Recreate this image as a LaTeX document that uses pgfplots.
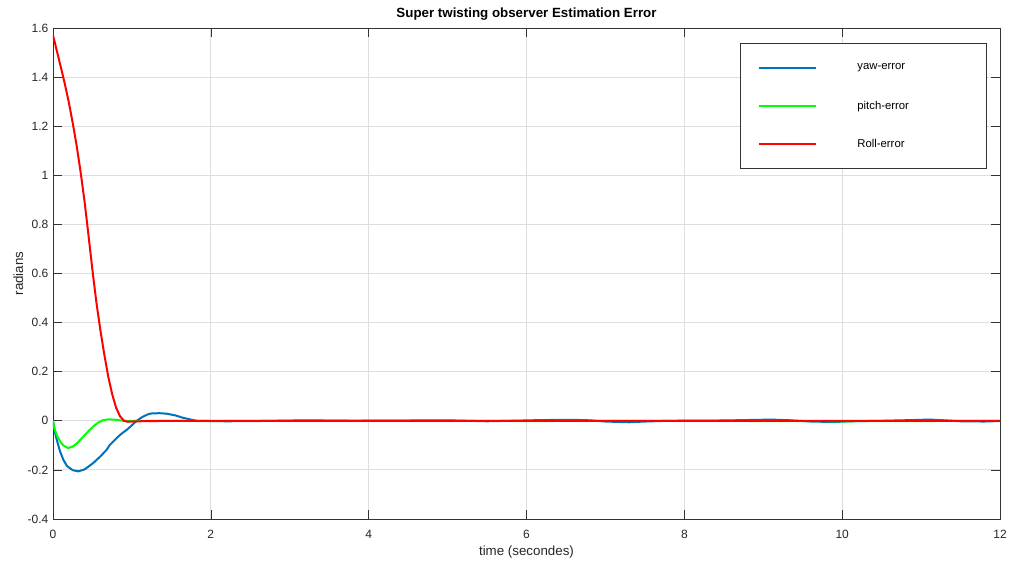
\documentclass[border=0pt]{standalone}
\usepackage{fontspec}
\setmainfont{Liberation Sans}
\usepackage{pgfplots}
\pgfplotsset{compat=1.18}
\definecolor{mblue}{rgb}{0,0.447,0.741}
\definecolor{mgreen}{rgb}{0,1,0}
\definecolor{mred}{rgb}{1,0,0}
\definecolor{txt}{rgb}{0.15,0.15,0.15}
\begin{document}
\begin{tikzpicture}
\begin{axis}[
  name=ax,
  scale only axis,
  width=710.25pt, height=368.25pt,
  xmin=0, xmax=12, ymin=-0.4, ymax=1.6,
  xtick={0,2,...,12},
  ytick={-0.4,-0.2,...,1.6},
  grid=major,
  major grid style={black!13, line width=0.6pt},
  tick align=inside,
  major tick length=6.5pt,
  tick style={black!80, line width=0.5pt},
  axis line style={black!80, line width=0.5pt},
  ticklabel style={font=\fontsize{9}{10}\selectfont, text=txt},
  xticklabel style={anchor=base, yshift=-14.5pt},
  /pgf/number format/assume math mode=true,
  /pgf/number format/fixed,
  title={\bfseries Super twisting observer Estimation Error},
  title style={font=\fontsize{10}{11}\selectfont, at={(axis description cs:0.5,1)}, anchor=center, yshift=4.5pt},
  xlabel={time (secondes)},
  ylabel={radians},
  label style={font=\fontsize{10}{11}\selectfont, text=txt},
  xlabel style={at={(axis description cs:0.5,0)}, anchor=center, yshift=-24.75pt},
  ylabel style={at={(axis description cs:0,0.5)}, anchor=center, yshift=26pt},
  legend style={at={(0.9863,0.9695)}, anchor=north east, draw=black!80,
    line width=0.5pt, inner xsep=0pt, inner ysep=3.9pt, row sep=0pt, column sep=0pt,
    font=\fontsize{8.5}{10}\selectfont, text=black,
    nodes={inner sep=0pt, text width=97pt, anchor=west}},
  legend cell align=left,
  legend image code/.code={\path (0pt,-13.6pt) (86pt,13.6pt);
    \draw[#1] (12.75pt,0pt) -- (55.5pt,0pt);},
]
\addplot[mblue, line width=1.5pt] coordinates {
(0,0) (0.02,-0.04) (0.047,-0.077) (0.09,-0.125) (0.131,-0.159) (0.18,-0.185)
(0.25,-0.201) (0.32,-0.206) (0.4,-0.198) (0.51,-0.172) (0.6,-0.145)
(0.68,-0.118) (0.72,-0.098) (0.807,-0.07) (0.87,-0.052) (0.934,-0.037)
(1.0,-0.018) (1.06,0.0) (1.13,0.015) (1.2,0.026) (1.25,0.03) (1.35,0.031)
(1.44,0.029) (1.55,0.022) (1.65,0.012) (1.75,0.005) (1.82,0.0)
(2.2,-0.002) (2.6,-0.001) (3.2,0.002) (3.8,0.0) (4.4,0.001) (5.0,0.002)
(5.5,-0.002) (6.2,0.003) (6.6,0.004) (6.8,0.002) (7.0,-0.003) (7.3,-0.006)
(7.5,-0.003) (7.8,0.0) (8.4,0.001) (8.8,0.003) (9.1,0.005) (9.35,0.002)
(9.6,-0.003) (9.9,-0.005) (10.1,-0.002) (10.5,0.0) (10.9,0.003)
(11.1,0.005) (11.3,0.002) (11.5,-0.002) (11.8,-0.003) (12,-0.001)
};
\addlegendentry{yaw-error}
\addplot[mgreen, line width=1.5pt] coordinates {
(0,0) (0.025,-0.037) (0.05,-0.06) (0.09,-0.084) (0.13,-0.10) (0.19,-0.111)
(0.25,-0.105) (0.3,-0.093) (0.38,-0.066) (0.45,-0.042) (0.51,-0.023)
(0.57,-0.008) (0.63,0.002) (0.7,0.006) (0.8,0.004) (0.9,0.0)
(2,-0.001) (4,0.001) (6,-0.001) (8,0.0) (10,-0.002) (12,0.0)
};
\addlegendentry{pitch-error}
\addplot[mred, line width=1.5pt] coordinates {
(0,1.571) (0.05,1.505) (0.1,1.44) (0.15,1.372) (0.2,1.298) (0.25,1.213)
(0.3,1.12) (0.35,1.013) (0.4,0.893) (0.45,0.755) (0.5,0.613) (0.55,0.482)
(0.6,0.37) (0.65,0.27) (0.7,0.18) (0.75,0.108) (0.8,0.053) (0.85,0.018)
(0.9,0.0) (0.95,-0.004) (1.0,-0.003) (1.2,-0.001) (2,0.0) (12,0.0)
};
\addlegendentry{Roll-error}
\end{axis}
\pgfresetboundingbox
\path (ax.south west) +(-39.75pt,-41.25pt) (ax.north east) +(6.75pt,21pt);
\end{tikzpicture}
\end{document}
